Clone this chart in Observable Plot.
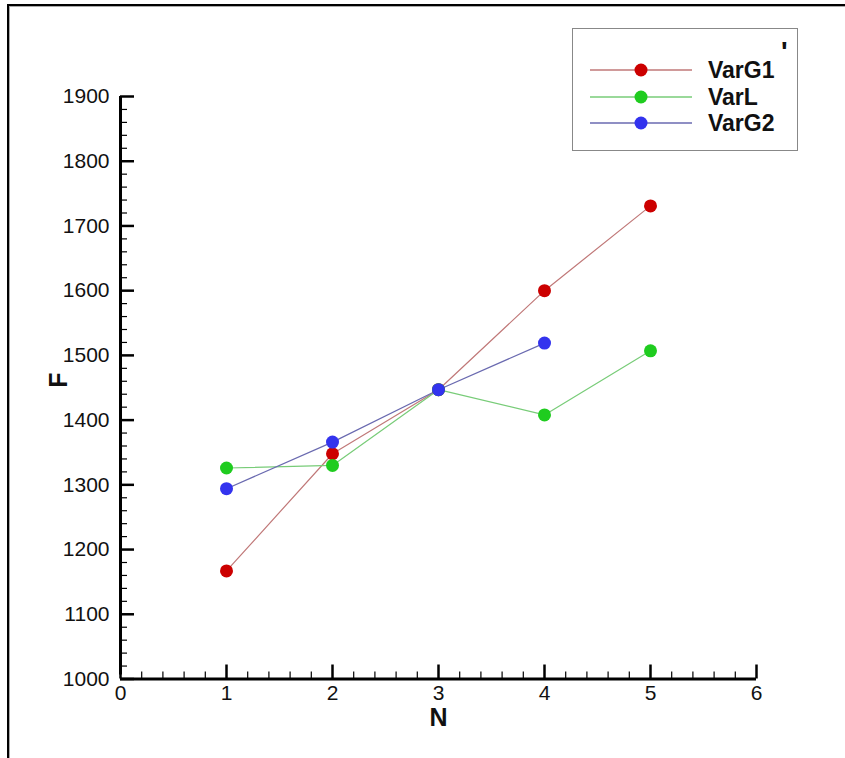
<!DOCTYPE html>
<html>
<head>
<meta charset="utf-8">
<script src="https://cdn.jsdelivr.net/npm/d3@7"></script>
<script src="https://cdn.jsdelivr.net/npm/@observablehq/plot@0.6"></script>
<style>
  html, body { margin: 0; padding: 0; background: #fff; }
  #wrap { position: relative; width: 845px; height: 758px; overflow: hidden; font-family: "Liberation Sans", Arial, sans-serif; }
  #frame { position: absolute; left: 7px; top: 4px; right: -10px; bottom: -10px; border-left: 2px solid #000; border-top: 2px solid #000; box-shadow: inset 1px 1px 0 #aaa; pointer-events: none; }
  #legend { position: absolute; left: 572px; top: 28px; width: 224px; height: 121px; border: 1px solid #888; background: #fff; }
  .row { position: absolute; left: 0; height: 26px; width: 224px; }
  .row svg { position: absolute; left: 17px; top: 0; }
  .row span { position: absolute; left: 135px; top: 0px; font-weight: bold; font-size: 23px; line-height: 26px; color: #111; }
  #tickmark { position: absolute; left: 781px; top: 38px; font-weight: bold; font-size: 28px; line-height: 28px; color: #111; }
</style>
</head>
<body>
<div id="wrap"></div>
<script>
const N = [1, 2, 3, 4, 5];
const varG1 = [1167, 1348, 1447, 1600, 1731];
const varL  = [1326, 1330, 1447, 1408, 1507];
const varG2 = [1294, 1366, 1447, 1519];

const seriesNames = ["VarG1", "VarL", "VarG2"];
const dotColors  = ["#cc0000", "#1fcc1f", "#3333ee"];
const lineColors = ["#c07878", "#78cc78", "#6a6ab0"];

const xMajor = [0, 1, 2, 3, 4, 5, 6];
const yMajor = [1000, 1100, 1200, 1300, 1400, 1500, 1600, 1700, 1800, 1900];
const xMinor = d3.range(0, 6.0001, 0.2).filter(v => Math.abs(v - Math.round(v)) > 1e-6);
const yMinor = d3.range(1000, 1900.001, 20).filter(v => v % 100 !== 0);

const rows = [];
[varG1, varL, varG2].forEach((vals, s) => {
  vals.forEach((v, i) => rows.push({series: seriesNames[s], n: N[i], f: v}));
});

const W = 845, H = 758;
const mL = 120, mR = 89, mT = 96, mB = 79.5;
const plotW = W - mL - mR, plotH = H - mT - mB;

const chart = Plot.plot({
  width: W,
  height: H,
  marginLeft: mL,
  marginRight: mR,
  marginTop: mT,
  marginBottom: mB,
  style: {background: "transparent", fontFamily: "Liberation Sans, Arial, sans-serif", color: "#111"},
  x: {domain: [0, 6]},
  y: {domain: [1000, 1900]},
  color: {domain: seriesNames, range: lineColors},
  marks: [
    Plot.axisX(xMajor, {tickSize: 0, tickPadding: 6, fontSize: 21, label: null, tickFormat: d => String(d)}),
    Plot.axisY(yMajor, {tickSize: 0, tickPadding: 11, fontSize: 21, label: null, tickFormat: d => String(d)}),
    // inward ticks
    Plot.tickY(yMajor, {y: d => d, insetRight: plotW - 14, stroke: "#000", strokeWidth: 2.5}),
    Plot.tickY(yMinor, {y: d => d, insetRight: plotW - 7, stroke: "#000", strokeWidth: 1.2}),
    Plot.tickX(xMajor, {x: d => d, insetTop: plotH - 14, stroke: "#000", strokeWidth: 2.5}),
    Plot.tickX(xMinor, {x: d => d, insetTop: plotH - 7, stroke: "#000", strokeWidth: 1.2}),
    Plot.ruleX([0], {y1: 1000, y2: 1900, stroke: "#000", strokeWidth: 3, insetTop: -4}),
    Plot.ruleY([1000], {x1: 0, x2: 6, stroke: "#000", strokeWidth: 3}),
    Plot.line(rows, {x: "n", y: "f", z: "series", stroke: "series", strokeWidth: 1.2}),
    Plot.dot(rows, {x: "n", y: "f", r: 6.5, fill: d => dotColors[seriesNames.indexOf(d.series)], stroke: "none"}),
    Plot.text(["N"], {frameAnchor: "bottom", lineAnchor: "middle", dy: 39, text: d => d, fontSize: 25, fontWeight: "bold", fill: "#111"}),
    Plot.text(["F"], {frameAnchor: "left", dx: -62, rotate: -90, text: d => d, fontSize: 25, fontWeight: "bold", fill: "#111"})
  ]
});

const wrap = document.getElementById("wrap");
wrap.appendChild(chart);

const frame = document.createElement("div");
frame.id = "frame";
wrap.appendChild(frame);

const legend = document.createElement("div");
legend.id = "legend";
seriesNames.forEach((name, i) => {
  const row = document.createElement("div");
  row.className = "row";
  row.style.top = (28 + i * 26.5) + "px";
  row.innerHTML = `<svg width="104" height="26"><line x1="0" x2="102" y1="13" y2="13" stroke="${lineColors[i]}" stroke-width="1.3"/><circle cx="51" cy="13" r="6.5" fill="${dotColors[i]}"/></svg><span>${name}</span>`;
  legend.appendChild(row);
});
wrap.appendChild(legend);

const tm = document.createElement("div");
tm.id = "tickmark";
tm.textContent = "'";
wrap.appendChild(tm);
</script>
</body>
</html>
